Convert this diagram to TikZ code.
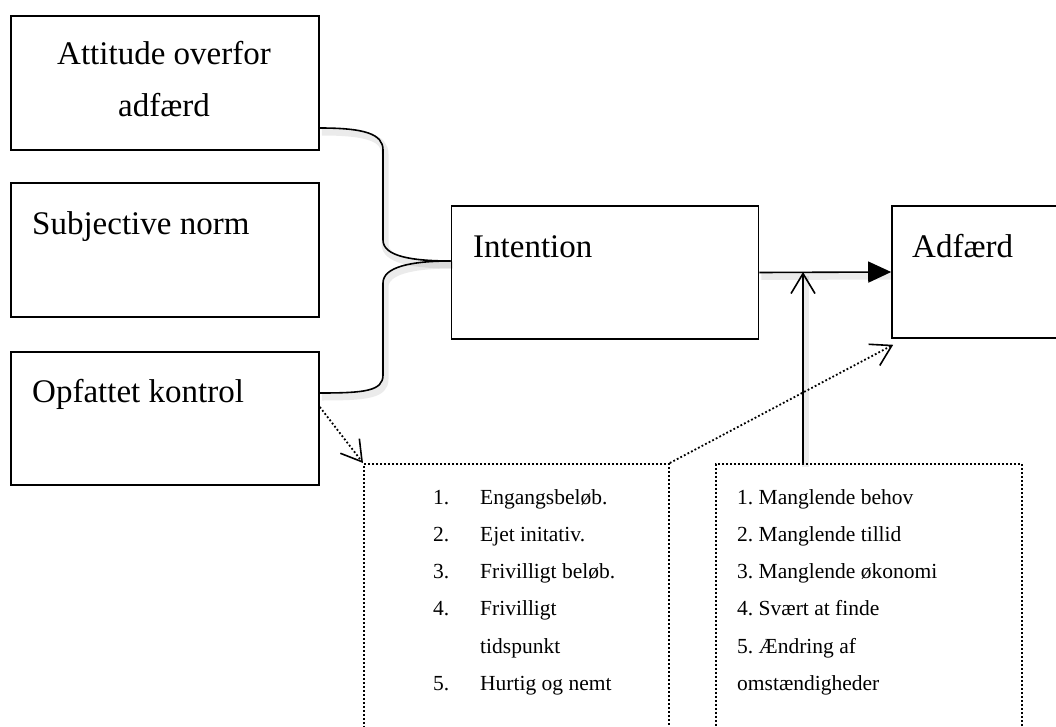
\documentclass[tikz,border=0pt]{standalone}
\usepackage{fontspec}
\setmainfont{Liberation Serif}
\usetikzlibrary{arrows.meta}
\frenchspacing
\begin{document}
\begin{tikzpicture}[x=1pt,y=-1pt,
  box/.style={draw, line width=1.6pt, inner sep=0pt, rectangle},
  dotbox/.style={draw, line width=1.8pt, dash pattern=on 1.8pt off 2.2pt, inner sep=0pt, rectangle},
  big/.style={font=\fontsize{33}{33}\selectfont, inner sep=0pt},
  small/.style={font=\fontsize{21.5}{21.5}\selectfont, inner sep=0pt, anchor=base west},
  shadow/.style={preaction={draw, -, black, opacity=0.08, line width=7pt, solid,
      transform canvas={shift={(2pt,-4pt)}}}},
  conn/.style={line width=1.6pt, shadow},
  dotconn/.style={line width=1.8pt, dash pattern=on 1.8pt off 2.2pt},
  openhead/.style={-{Straight Barb[length=20pt,width=24pt,line width=1.6pt]}},
  filledhead/.style={-{Triangle[length=23pt,width=21pt]}}
]
\useasboundingbox (0,0) rectangle (1056,727);

% determinant boxes
\node[box, minimum width=308pt, minimum height=134pt] (att)  at (165,83)    {};
\node[box, minimum width=308pt, minimum height=134pt] (subj) at (165,250)   {};
\node[box, minimum width=308pt, minimum height=133pt] (opf)  at (165,418.5) {};
\node[box, minimum width=307pt, minimum height=133pt] (int)  at (605,272.5) {};
\node[box, minimum width=178pt, minimum height=132pt] (adf)  at (981,272)   {};

% box texts
\node[big, anchor=base] (tatt1) at (164,65)  {Attitude overfor};
\node[big, anchor=base] (tatt2) at (164,117) {adfærd};
\node[big, anchor=base west] (tsubj) at (32,234)  {Subjective norm};
\node[big, anchor=base west] (topf)  at (32,402)  {Opfattet kontrol};
\node[big, anchor=base west] (tint)  at (473,257) {Intention};
\node[big, anchor=base west] (tadf)  at (912,257) {Adfærd};

% dotted lists
\node[dotbox, minimum width=305pt, minimum height=340pt, anchor=north west] (l1) at (363,463) {};
\node[dotbox, minimum width=306pt, minimum height=340pt, anchor=north west] (l2) at (715,463) {};

\foreach \n/\t [count=\i] in {1./Engangsbeløb., 2./Ejet initativ., 3./Frivilligt beløb., 4./Frivilligt, /tidspunkt, 5./Hurtig og nemt}{
  \node[small] (la\i) at (433,467+37.2*\i) {\n};
  \node[small] (lb\i) at (480,467+37.2*\i) {\t};
}
\foreach \t [count=\i] in {1. Manglende behov, 2. Manglende tillid, 3. Manglende økonomi, 4. Svært at finde, 5. Ændring af, omstændigheder}{
  \node[small] (r\i) at (737,467+37.2*\i) {\t};
}

% brace joining the three determinants into the intention
\coordinate (tip) at ([yshift=11.5pt]int.west);
\draw[conn] ([yshift=-45pt]att.east) .. controls +(45,0) and +(0,-16) .. (383,150)
  -- (383,240) .. controls +(0,16) and +(-40,0) .. (tip);
\draw[conn] (tip) .. controls +(-40,0) and +(0,-16) .. (383,283)
  -- (383,375) .. controls +(0,16) and +(45,0) .. ([yshift=25.5pt]opf.east);

% intention to behaviour
\draw[conn, filledhead] (int.east) -- (adf.west);

% barriers acting on the intention-behaviour link
\coordinate (meet) at (803,272);
\draw[conn, openhead] (l2.north -| meet) -- (meet);

% dotted links
\draw[dotconn, openhead] ([yshift=11.5pt]opf.east) -- (l1.north west);
\coordinate (adfin) at ([shift={(2pt,-6pt)}]adf.south west);
\draw[dotconn, openhead] (l1.north east) -- (adfin);
\end{tikzpicture}
\end{document}
